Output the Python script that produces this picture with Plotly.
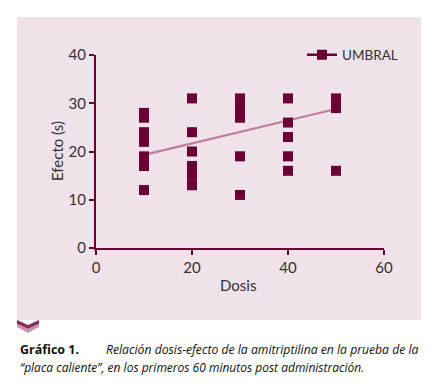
import plotly.graph_objects as go

# ---- data ----
dosis = [10, 10, 10, 10, 10, 10, 10,
         20, 20, 20, 20, 20, 20,
         30, 30, 30, 30, 30,
         40, 40, 40, 40, 40,
         50, 50, 50]
efecto = [28, 27, 24, 22, 19, 17, 12,
          31, 24, 20, 17, 15, 13,
          31, 29, 27, 19, 11,
          31, 26, 23, 19, 16,
          31, 29, 16]
trend_x = [10, 50]
trend_y = [19.3, 28.8]
series_name = "UMBRAL"
x_ticks = [0, 20, 40, 60]
y_ticks = [0, 10, 20, 30, 40]

W, H = 439, 391
L, R, T, B = 96, 384, 55, 248  # plot area pixel box

def px(X):
    return (X - L) / (R - L)

def py(Y):
    return (B - Y) / (B - T)

MAROON = "#6a0035"
PINK_LINE = "#c07e9a"
BG = "#f0e2ea"
TXT = "#333333"
FONT = "Lato, sans-serif"
CAP_FONT = "Open Sans"

fig = go.Figure()
fig.add_trace(go.Scatter(x=trend_x, y=trend_y, mode="lines",
                         line=dict(color=PINK_LINE, width=2.2),
                         showlegend=False, hoverinfo="skip"))
fig.add_trace(go.Scatter(x=dosis, y=efecto, mode="markers",
                         marker=dict(symbol="square", size=10, color=MAROON,
                                     line=dict(width=0)),
                         showlegend=False))
fig.add_trace(go.Scatter(x=[None], y=[None], mode="lines+markers",
                         name=series_name,
                         line=dict(color=MAROON, width=2.5),
                         marker=dict(symbol="square", size=10, color=MAROON)))

shapes = [
    dict(type="rect", xref="paper", yref="paper", layer="below",
         x0=px(17), x1=px(421), y0=py(320), y1=py(17),
         fillcolor=BG, line=dict(width=0)),
    dict(type="path", xref="paper", yref="paper",
         path=f"M {px(17)},{py(320)} L {px(28)},{py(325)} L {px(39)},{py(320)} "
              f"L {px(39)},{py(324)} L {px(28)},{py(329)} L {px(17)},{py(324)} Z",
         fillcolor="#8c2d5c", line=dict(width=0)),
    dict(type="path", xref="paper", yref="paper",
         path=f"M {px(17)},{py(324)} L {px(28)},{py(329)} L {px(39)},{py(324)} "
              f"L {px(39)},{py(327)} L {px(28)},{py(333)} L {px(17)},{py(327)} Z",
         fillcolor="#c996b4", line=dict(width=0)),
]

annotations = [
    dict(text="Efecto (s)", x=px(57), y=py(151), xref="paper", yref="paper",
         xanchor="center", yanchor="middle",
         textangle=-90, showarrow=False, font=dict(size=15, color=TXT, family=FONT)),
    dict(text="Dosis", x=px(238), y=py(285), xref="paper", yref="paper",
         xanchor="center", yanchor="middle",
         showarrow=False, font=dict(size=15, color=TXT, family=FONT)),
    dict(text="<b>Gráfico 1.</b>", x=px(18), y=py(349), xref="paper", yref="paper",
         xanchor="left", yanchor="middle", showarrow=False,
         font=dict(size=12.5, color="#111111", family=CAP_FONT)),
    dict(text="<i>Relación dosis-efecto de la amitriptilina en la prueba de la</i>",
         x=px(421), y=py(349), xref="paper", yref="paper",
         xanchor="right", yanchor="middle", showarrow=False,
         font=dict(size=12.2, color="#111111", family=CAP_FONT)),
    dict(text="<i>“placa caliente”, en los primeros 60 minutos post administración.</i>",
         x=px(18), y=py(367), xref="paper", yref="paper",
         xanchor="left", yanchor="middle", showarrow=False,
         font=dict(size=12, color="#111111", family=CAP_FONT)),
]

axis_common = dict(showgrid=False, zeroline=False, showline=True,
                   linecolor=MAROON, linewidth=2, ticks="outside",
                   ticklen=5, tickwidth=1.5, tickcolor=MAROON, automargin=False,
                   tickfont=dict(size=15, color=TXT, family=FONT))

fig.update_layout(
    width=W, height=H,
    margin=dict(l=L, r=W - R, t=T, b=H - B, pad=0, autoexpand=False),
    paper_bgcolor="white", plot_bgcolor="rgba(0,0,0,0)",
    xaxis=dict(range=[0, 60], tickvals=x_ticks, **axis_common),
    yaxis=dict(range=[0, 40], tickvals=y_ticks, **axis_common),
    legend=dict(x=px(302), y=py(55), xanchor="left", yanchor="middle",
                bgcolor="rgba(0,0,0,0)", font=dict(size=13.5, color=TXT, family=FONT)),
    shapes=shapes, annotations=annotations,
)

fig.write_html("out.html", config={"displayModeBar": False},
               post_script="document.body.style.margin='0px';document.body.style.padding='0px';")
